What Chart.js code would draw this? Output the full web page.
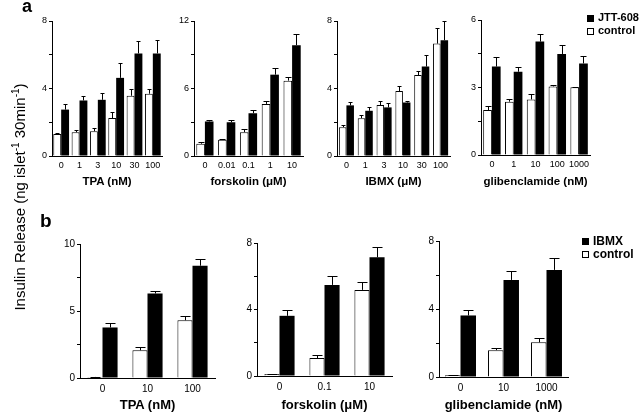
<!DOCTYPE html>
<html>
<head>
<meta charset="utf-8">
<script src="https://cdn.jsdelivr.net/npm/chart.js@4.4.1/dist/chart.umd.min.js"></script>
<style>
  body { margin: 0; background: #fff; font-family: Arial, "Liberation Sans", Helvetica, sans-serif; }
  #stage { position: relative; width: 640px; height: 413px; overflow: hidden; }
  canvas { position: absolute; }
  .lbl { position: absolute; white-space: nowrap; color: #000; }
  .xt { font-weight: bold; text-align: center; width: 200px; }
  .sq { position: absolute; width: 7px; height: 7px; box-sizing: border-box; border: 1px solid #000; }
</style>
</head>
<body>
<div id="stage"></div>
<script>
// ---- data (panel a: JTT-608 vs control, panel b: IBMX vs control) ----
const tpaLabelsA = ["0", "1", "3", "10", "30", "100"];
const tpaCtrlA = [1.31, 1.41, 1.47, 2.25, 3.57, 3.69];
const tpaCtrlErrA = [0.05, 0.12, 0.2, 0.35, 0.4, 0.3];
const tpaJttA = [2.75, 3.29, 3.33, 4.63, 6.08, 6.08];
const tpaJttErrA = [0.33, 0.24, 0.4, 0.86, 0.73, 0.82];

const forskLabelsA = ["0", "0.01", "0.1", "1", "10"];
const forskCtrlA = [1.09, 1.45, 2.12, 4.63, 6.7];
const forskCtrlErrA = [0.15, 0.05, 0.3, 0.3, 0.35];
const forskJttA = [3.07, 3.0, 3.8, 7.23, 9.85];
const forskJttErrA = [0.15, 0.2, 0.3, 0.6, 1.03];

const ibmxLabelsA = ["0", "1", "3", "10", "30", "100"];
const ibmxCtrlA = [1.71, 2.24, 3.02, 3.85, 4.8, 6.66];
const ibmxCtrlErrA = [0.12, 0.2, 0.24, 0.28, 0.26, 0.9];
const ibmxJttA = [3.0, 2.68, 2.88, 3.17, 5.3, 6.86];
const ibmxJttErrA = [0.18, 0.2, 0.24, 0.06, 0.7, 1.14];

const glibLabelsA = ["0", "1", "10", "100", "1000"];
const glibCtrlA = [2.0, 2.37, 2.47, 3.05, 3.01];
const glibCtrlErrA = [0.18, 0.13, 0.24, 0.04, 0.02];
const glibJttA = [3.93, 3.7, 5.04, 4.49, 4.07];
const glibJttErrA = [0.44, 0.19, 0.33, 0.4, 0.33];

const tpaLabelsB = ["0", "10", "100"];
const tpaCtrlB = [0.08, 2.07, 4.31];
const tpaCtrlErrB = [0.03, 0.25, 0.3];
const tpaIbmxB = [3.77, 6.31, 8.38];
const tpaIbmxErrB = [0.3, 0.2, 0.47];

const forskLabelsB = ["0", "0.1", "10"];
const forskCtrlB = [0.12, 1.08, 5.18];
const forskCtrlErrB = [0.03, 0.2, 0.48];
const forskIbmxB = [3.62, 5.48, 7.14];
const forskIbmxErrB = [0.34, 0.56, 0.6];

const glibLabelsB = ["0", "10", "1000"];
const glibCtrlB = [0.1, 1.58, 2.04];
const glibCtrlErrB = [0.03, 0.1, 0.28];
const glibIbmxB = [3.62, 5.71, 6.3];
const glibIbmxErrB = [0.34, 0.51, 0.71];

// y axis ranges: [max, step, labelled every]
const yTicksA = [[8, 2, 4], [12, 3, 6], [8, 2, 4], [6, 1.5, 3]];
const yTicksB = [[10, 2.5, 5], [8, 2, 4], [8, 2, 4]];

// ---- layout (pixel boxes of each plot area) ----
const panels = [
  { labels: tpaLabelsA, ctrl: tpaCtrlA, ctrlErr: tpaCtrlErrA, drug: tpaJttA, drugErr: tpaJttErrA, ticks: yTicksA[0],
    x0: 52, x1: 162, y0: 21, y1: 156, cat: 0.86, font: 9, pad: 4, title: "TPA (nM)" },
  { labels: forskLabelsA, ctrl: forskCtrlA, ctrlErr: forskCtrlErrA, drug: forskJttA, drugErr: forskJttErrA, ticks: yTicksA[1],
    x0: 194, x1: 303, y0: 21, y1: 156, cat: 0.79, font: 9, pad: 4, title: "forskolin (\u03bcM)" },
  { labels: ibmxLabelsA, ctrl: ibmxCtrlA, ctrlErr: ibmxCtrlErrA, drug: ibmxJttA, drugErr: ibmxJttErrA, ticks: yTicksA[2],
    x0: 337, x1: 450, y0: 21, y1: 156, cat: 0.8, font: 9, pad: 4, title: "IBMX (\u03bcM)" },
  { labels: glibLabelsA, ctrl: glibCtrlA, ctrlErr: glibCtrlErrA, drug: glibJttA, drugErr: glibJttErrA, ticks: yTicksA[3],
    x0: 481, x1: 590, y0: 20, y1: 155, cat: 0.8, font: 9, pad: 4, title: "glibenclamide (nM)" },
  { labels: tpaLabelsB, ctrl: tpaCtrlB, ctrlErr: tpaCtrlErrB, drug: tpaIbmxB, drugErr: tpaIbmxErrB, ticks: yTicksB[0],
    x0: 80, x1: 215, y0: 244, y1: 378, cat: 0.67, font: 10, pad: 5, title: "TPA (nM)" },
  { labels: forskLabelsB, ctrl: forskCtrlB, ctrlErr: forskCtrlErrB, drug: forskIbmxB, drugErr: forskIbmxErrB, ticks: yTicksB[1],
    x0: 257, x1: 392, y0: 243, y1: 376, cat: 0.67, font: 10, pad: 5, title: "forskolin (\u03bcM)" },
  { labels: glibLabelsB, ctrl: glibCtrlB, ctrlErr: glibCtrlErrB, drug: glibIbmxB, drugErr: glibIbmxErrB, ticks: yTicksB[2],
    x0: 439, x1: 568, y0: 241, y1: 377, cat: 0.72, font: 10, pad: 5, title: "glibenclamide (nM)" },
];

const FONT = 'Arial, "Liberation Sans", Helvetica, sans-serif';
const stage = document.getElementById("stage");

// Draw upward-only error bars with a small cap
const errorBars = {
  id: "errorBars",
  afterDatasetsDraw(chart) {
    const ctx = chart.ctx;
    const y = chart.scales.y;
    chart.data.datasets.forEach((ds, i) => {
      chart.getDatasetMeta(i).data.forEach((bar, j) => {
        const top = Math.round(y.getPixelForValue(ds.data[j] + ds.errors[j])) + 0.5;
        const x = Math.round(bar.x) + 0.5;
        const half = Math.max(2, Math.round(bar.width * 0.3));
        ctx.save();
        ctx.strokeStyle = "#000";
        ctx.lineWidth = 1;
        ctx.beginPath();
        ctx.moveTo(x, bar.y);
        ctx.lineTo(x, top);
        ctx.moveTo(x - half, top);
        ctx.lineTo(x + half, top);
        ctx.stroke();
        ctx.restore();
      });
    });
  },
};

function addText(text, css) {
  const d = document.createElement("div");
  d.className = "lbl " + (css.cls || "");
  d.innerHTML = text;
  Object.assign(d.style, css.style);
  stage.appendChild(d);
  return d;
}

function createPanel(p) {
  const leftW = 40, topPad = 10, rightPad = 5, bottomH = 24;
  const canvas = document.createElement("canvas");
  canvas.width = p.x1 - p.x0 + leftW + rightPad;
  canvas.height = p.y1 - p.y0 + topPad + bottomH;
  canvas.style.left = (p.x0 - leftW) + "px";
  canvas.style.top = (p.y0 - topPad) + "px";
  stage.appendChild(canvas);

  const [max, step, every] = p.ticks;
  new Chart(canvas.getContext("2d"), {
    type: "bar",
    data: {
      labels: p.labels,
      datasets: [
        { data: p.ctrl, errors: p.ctrlErr, backgroundColor: "#fff", borderColor: "#000", borderWidth: 1 },
        { data: p.drug, errors: p.drugErr, backgroundColor: "#000", borderColor: "#000", borderWidth: 0 },
      ],
    },
    options: {
      responsive: false,
      animation: false,
      devicePixelRatio: 1,
      datasets: { bar: { barPercentage: 1.0, categoryPercentage: p.cat } },
      layout: { autoPadding: false, padding: { left: 0, right: rightPad, top: topPad, bottom: 0 } },
      plugins: { legend: { display: false }, tooltip: { enabled: false } },
      scales: {
        x: {
          grid: { display: false, drawTicks: false, tickLength: 0 },
          border: { display: true, color: "#000", width: 1 },
          ticks: { color: "#000", font: { family: FONT, size: p.font }, padding: p.pad, maxRotation: 0, autoSkip: false },
          afterFit: (s) => { s.height = bottomH; },
        },
        y: {
          min: 0,
          max: max,
          grid: { drawOnChartArea: false, drawTicks: true, tickLength: 3, color: "#000" },
          border: { display: true, color: "#000", width: 1 },
          ticks: {
            stepSize: step,
            color: "#000",
            padding: 2,
            font: { family: FONT, size: p.font },
            callback: (v) => (Math.abs(v % every) < 1e-9 ? String(v) : ""),
          },
          afterFit: (s) => { s.width = leftW; },
        },
      },
    },
    plugins: [errorBars],
  });

  // x axis title
  const big = p.font === 10;
  addText(p.title, {
    cls: "xt",
    style: {
      left: ((p.x0 + p.x1) / 2 - 100) + "px",
      top: (big ? 397 : 175) + "px",
      fontSize: (big ? 13 : 11.5) + "px",
    },
  });
}

panels.forEach(createPanel);

// panel letters
addText("a", { style: { left: "22px", top: "-4px", fontSize: "18px", fontWeight: "bold" } });
addText("b", { style: { left: "40px", top: "210px", fontSize: "19px", fontWeight: "bold" } });

// shared y axis title
addText("Insulin Release (ng islet<sup style='font-size:10px'>-1</sup> 30min<sup style='font-size:10px'>-1</sup>)", {
  style: {
    left: (18 - 150) + "px", top: (195 - 9) + "px", width: "300px", textAlign: "center",
    fontSize: "15px", lineHeight: "18px", transform: "rotate(-90deg)",
  },
});

// legends
function addLegend(x, y, names, size) {
  names.forEach((n, i) => {
    const sq = document.createElement("div");
    sq.className = "sq";
    sq.style.left = x + "px";
    sq.style.top = (y + i * 13) + "px";
    sq.style.background = i === 0 ? "#000" : "#fff";
    stage.appendChild(sq);
    addText(n, { style: { left: (x + 11) + "px", top: (y + i * 13 - 4) + "px", fontSize: size + "px", fontWeight: "bold" } });
  });
}
addLegend(587, 15, ["JTT-608", "control"], 11);
addLegend(582, 238, ["IBMX", "control"], 12);
</script>
</body>
</html>
